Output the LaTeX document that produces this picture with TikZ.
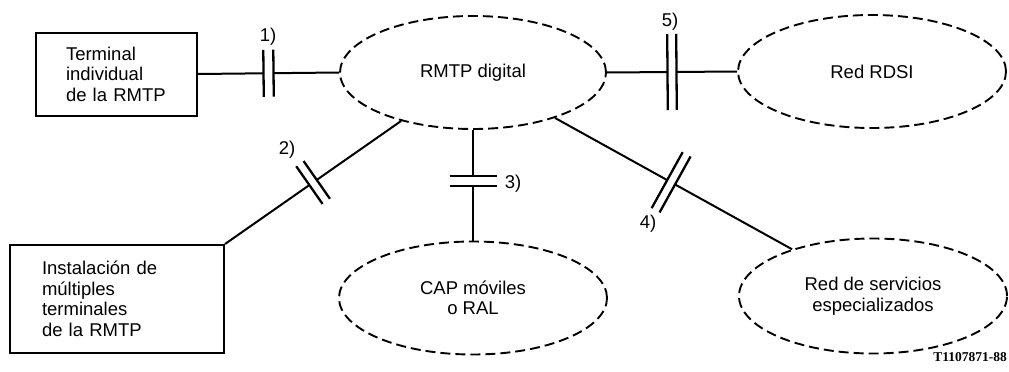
\documentclass[tikz,border=0pt]{standalone}
\usepackage{fontspec}
\setmainfont{Liberation Sans}
\newfontfamily\codefont{Liberation Serif}
\usetikzlibrary{shapes.geometric,calc}
\newcommand\ifbreak[5]{%
  \coordinate (bkm) at ($#1!#3!#2$);
  \coordinate (bka) at ($(bkm)!#4!#1$);
  \coordinate (bkb) at ($(bkm)!#4!#2$);
  \draw[conn] #1 -- (bka) (bkb) -- #2;
  \draw[bar] ($(bka)!#5!90:#1$) -- ($(bka)!#5!-90:#1$)
             ($(bkb)!#5!90:#2$) -- ($(bkb)!#5!-90:#2$);
}
\begin{document}
\begin{tikzpicture}[x=1pt,y=-1pt,
  every node/.style={font=\fontsize{18.5}{20.5}\selectfont},
  conn/.style={line width=2pt},
  bar/.style={line width=2.3pt},
  box/.style={draw, rectangle, line width=2pt, inner sep=0pt, align=left},
  net/.style={draw, ellipse, line width=1.9pt, dash pattern=on 10pt off 5pt, inner sep=0pt, align=center},
  lbl/.style={inner sep=0pt}]
\useasboundingbox (0,0) rectangle (1009,372);

\node[box, minimum width=161pt, minimum height=83pt, text width=101pt] (t1) at (116.5,74) {Terminal\\individual\\de~la~RMTP};
\node[box, minimum width=214pt, minimum height=108pt, text width=150pt] (t2) at (117,299) {Instalación~de\\múltiples\\terminales\\de~la~RMTP};

\node[net, minimum width=266pt, minimum height=113pt] (rmtp) at (473,72.5) {RMTP digital};
\node[net, minimum width=268pt, minimum height=113pt] (rdsi) at (872,71.5) {Red RDSI};
\node[net, minimum width=268pt, minimum height=113pt] (cap) at (473,298) {CAP móviles\\o RAL};
\node[net, minimum width=268pt, minimum height=115pt] (rse) at (873,296) {Red de servicios\\especializados};

\ifbreak{(t1.east)}{(rmtp.west)}{0.5}{5pt}{23.5pt}
\ifbreak{(rmtp.east)}{(rdsi.west)}{0.5}{4.5pt}{38pt}
\ifbreak{(t2.north east)}{(rmtp.214)}{0.5}{4.5pt}{23pt}
\ifbreak{(rmtp.south)}{(cap.north)}{0.46}{5pt}{23.5pt}
\ifbreak{(rmtp.331)}{(rse.150)}{0.49}{4.5pt}{32pt}

\node[lbl] (l1) at (268,36.5) {1)};
\node[lbl] (l5) at (670,21.5) {5)};
\node[lbl] (l2) at (287,150) {2)};
\node[lbl] (l3) at (513,183.5) {3)};
\node[lbl] (l4) at (648,223.5) {4)};
\node[anchor=east, inner sep=0pt, font=\codefont\bfseries\fontsize{13.5}{15}\selectfont] (code) at (1007,357) {T1107871-88};
\end{tikzpicture}
\end{document}
